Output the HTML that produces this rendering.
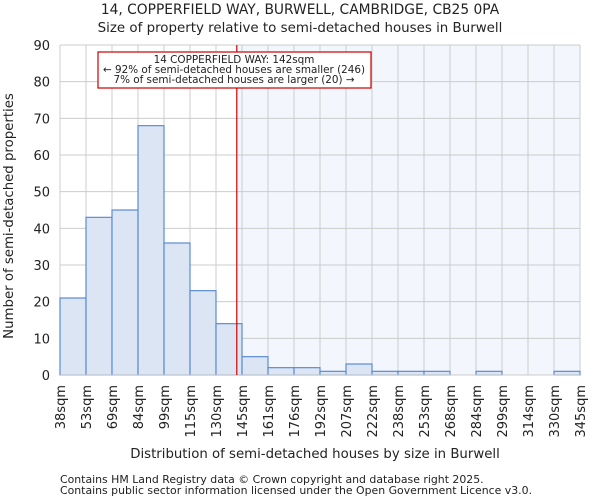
<!DOCTYPE html>
<html><head><meta charset="utf-8"><style>
body{margin:0;background:#fff;font-family:"DejaVu Sans","Liberation Sans",sans-serif}
svg text{font-family:"DejaVu Sans","Liberation Sans",sans-serif;fill:#222}
</style></head><body>
<svg id="c" width="600" height="500" xmlns="http://www.w3.org/2000/svg">
<text x="300" y="14" font-size="13.8" text-anchor="middle">14, COPPERFIELD WAY, BURWELL, CAMBRIDGE, CB25 0PA</text>
<text x="300" y="32" font-size="13.4" text-anchor="middle">Size of property relative to semi-detached houses in Burwell</text>
<g id="plot"></g>
<text x="315" y="458" font-size="13.3" text-anchor="middle">Distribution of semi-detached houses by size in Burwell</text>
<text transform="translate(13,216) rotate(-90)" font-size="13.3" text-anchor="middle">Number of semi-detached properties</text>
<text x="60" y="483" font-size="10.9" fill="#444">Contains HM Land Registry data © Crown copyright and database right 2025.</text>
<text x="60" y="494" font-size="10.9" fill="#444">Contains public sector information licensed under the Open Government Licence v3.0.</text>
</svg>
<script>
const edges=[38,53,69,84,99,115,130,145,161,176,192,207,222,238,253,268,284,299,314,330,345];
const counts=[21,43,45,68,36,23,14,5,2,2,1,3,1,1,1,0,1,0,0,1];
const yTicks=[0,10,20,30,40,50,60,70,80,90];
const subject=142;
const X0=60,X1=580,Y0=375,Y1=45,ymax=90;
const NS="http://www.w3.org/2000/svg";
const g=document.getElementById('plot');
function xi(i){return X0+(X1-X0)*i/(edges.length-1);}
function xv(v){for(let i=0;i<edges.length-1;i++){if(v<=edges[i+1])return xi(i)+(v-edges[i])/(edges[i+1]-edges[i])*(xi(i+1)-xi(i));}return X1;}
function y(v){return Y0-(Y0-Y1)*v/ymax;}
function mk(t,a){const e=document.createElementNS(NS,t);for(const k in a)e.setAttribute(k,a[k]);g.appendChild(e);return e;}
const sx=xv(subject);
let e=mk('rect',{x:sx,y:Y1,width:X1-sx,height:Y0-Y1,fill:'#f3f6fd'});


yTicks.forEach(t=>{let l=mk('line',{x1:X0,x2:X1,y1:y(t),y2:y(t),stroke:'#ccc'});


let tx=mk('text',{x:X0-10,y:y(t)+5,'font-size':13,'text-anchor':'end'});tx.textContent=t;

});
edges.forEach((v,i)=>{let l=mk('line',{x1:xi(i),x2:xi(i),y1:Y1,y2:Y0,stroke:'#ccc'});


let tx=mk('text',{x:0,y:0,'font-size':13,'text-anchor':'end',transform:`translate(${xi(i)+5},${Y0+10}) rotate(-90)`});tx.textContent=v+'sqm';

});
counts.forEach((c,i)=>{if(c<=0)return;let r=mk('rect',{x:xi(i),y:y(c),width:xi(i+1)-xi(i),height:Y0-y(c),fill:'#dce5f4',stroke:'#5b8bd5','stroke-width':1.2});

});
let ax=mk('line',{x1:X0,x2:X1,y1:Y0,y2:Y0,stroke:'#ccc'});
let rl=mk('line',{x1:sx,x2:sx,y1:Y1,y2:Y0,stroke:'#cc0000','stroke-width':1.2});


let bx=mk('rect',{x:98,y:52,width:273,height:36,fill:'#fff',stroke:'#cc0000','stroke-width':1.2});


[['14 COPPERFIELD WAY: 142sqm',63],['← 92% of semi-detached houses are smaller (246)',73],['7% of semi-detached houses are larger (20) →',83]].forEach(([s,yy])=>{let t=mk('text',{x:234,y:yy,'font-size':10.4,'text-anchor':'middle'});t.textContent=s;

});
</script>
</body></html>
